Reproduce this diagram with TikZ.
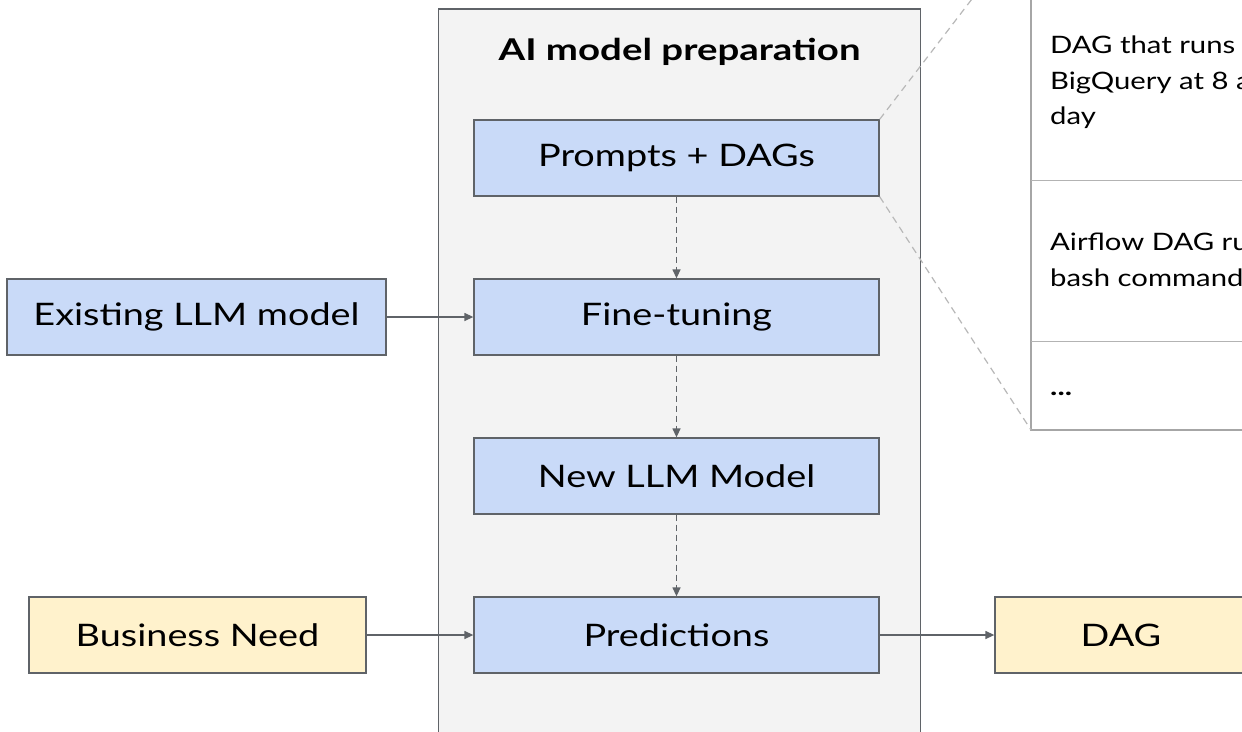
\documentclass[tikz,border=0pt]{standalone}
\usepackage{fontspec}
\setmainfont{Lato}[FakeStretch=1.22, BoldFeatures={FakeStretch=1.28}]
\usetikzlibrary{arrows.meta}
\definecolor{edge}{HTML}{5F6368}
\definecolor{bluebox}{HTML}{C9DAF8}
\definecolor{yellowbox}{HTML}{FFF2CC}
\definecolor{panel}{HTML}{F3F3F3}
\definecolor{tableline}{HTML}{A6A6A6}
\tikzset{
  box/.style={draw=edge, line width=1.3pt, minimum height=76pt, inner sep=0pt, font=\fontsize{31}{36}\selectfont},
  bluestep/.style={box, fill=bluebox},
  yellowstep/.style={box, fill=yellowbox},
  flow/.style={draw=edge, line width=1.3pt, -{Triangle[length=9pt,width=8pt]}},
  dflow/.style={flow, dash pattern=on 6pt off 4pt},
  zoomline/.style={draw=tableline!80, line width=1.2pt, dash pattern=on 7pt off 5pt},
  celltext/.style={anchor=north west, align=left, inner sep=0pt, font=\fontsize{24}{35.5}\selectfont}
}
\begin{document}
\begin{tikzpicture}[x=1pt,y=-1pt]
\useasboundingbox (0,0) rectangle (1242,731);
\clip (0,0) rectangle (1242,731);
\fill[white] (0,0) rectangle (1242,731);

% container panel
\draw[edge, fill=panel, line width=1.3pt] (438.5,9) rectangle (920.5,760);
\node[font=\bfseries\fontsize{30}{36}\selectfont] (title) at (679.5,52) {AI model preparation};

% steps inside the panel
\node[bluestep, minimum width=405pt] (prompts) at (676.5,158) {Prompts + DAGs};
\node[bluestep, minimum width=405pt] (tune) at (676.5,317) {Fine-tuning};
\node[bluestep, minimum width=405pt] (newllm) at (676.5,476) {New LLM Model};
\node[bluestep, minimum width=405pt] (pred) at (676.5,635) {Predictions};

% inputs and output
\node[bluestep, minimum width=379pt] (exist) at (196.5,317) {Existing LLM model};
\node[yellowstep, minimum width=337pt] (need) at (197.5,635) {Business Need};
\node[yellowstep, minimum width=252pt] (dag) at (1121,635) {DAG};

% example table
\coordinate (tabtl) at (1031,-78);
\coordinate (tabbl) at (1031,430);
\draw[tableline, line width=1.3pt] (tabtl) rectangle (1300,430);
\draw[tableline!85, line width=1.2pt] (1031,180.5) -- (1300,180.5);
\draw[tableline!85, line width=1.2pt] (1031,341.5) -- (1300,341.5);
\node[celltext] (row1) at (1050,36) {DAG that runs a query in\\BigQuery at 8 a.m. every\\day};
\node[celltext] (row2) at (1050,233) {Airflow DAG running a\\bash command};
\node[celltext, font=\bfseries\fontsize{24}{35}\selectfont] (row3) at (1050,392) {...};

% zoom guides
\draw[zoomline] (prompts.north east) -- (tabtl);
\draw[zoomline] (prompts.south east) -- (tabbl);

% connectors
\draw[dflow] (prompts) -- (tune);
\draw[dflow] (tune) -- (newllm);
\draw[dflow] (newllm) -- (pred);
\draw[flow] (exist) -- (tune);
\draw[flow] (need) -- (pred);
\draw[flow] (pred) -- (dag);
\end{tikzpicture}
\end{document}
